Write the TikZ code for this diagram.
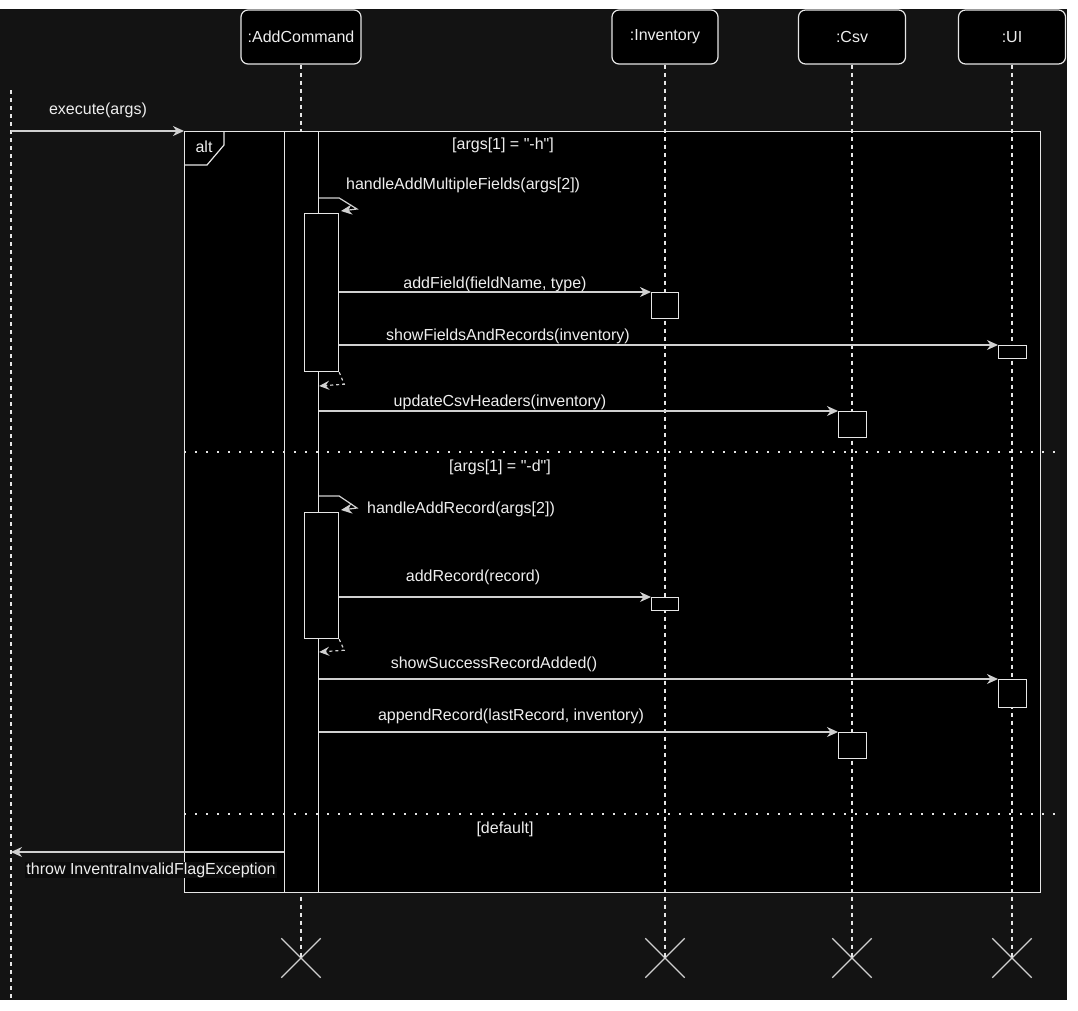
\documentclass[tikz,border=0pt]{standalone}
\usepackage{fontspec}
\setmainfont{Liberation Sans}[Ligatures=TeXOff]
\usetikzlibrary{arrows.meta,shapes.misc}
\definecolor{bgc}{HTML}{131313}
\definecolor{ln}{HTML}{E6E6E6}
\definecolor{ml}{HTML}{D0D0D0}
\definecolor{tx}{HTML}{EEEEEE}
\definecolor{lblbg}{HTML}{0B0B0B}
\begin{document}
\begin{tikzpicture}[x=1pt,y=-1pt,
  font=\fontsize{16}{18}\selectfont,
  head/.style={draw=ln, fill=black, rounded corners=7pt, line width=1.2pt,
    minimum width=120pt, minimum height=54pt, text=tx, inner sep=0pt},
  life/.style={draw=ln, line width=1.2pt, dash pattern=on 4pt off 4pt},
  actbox/.style={draw=ln, fill=black, line width=1.2pt, inner sep=0pt, anchor=north west},
  msg/.style={draw=ml, line width=1.2pt, -{Stealth[length=11pt,width=10pt,inset=3.5pt]}},
  ret/.style={draw=ml, line width=1.2pt, dash pattern=on 3pt off 3pt,
    -{Stealth[length=10pt,width=9pt,inset=3.5pt]}},
  lbl/.style={text=tx, inner sep=0pt},
  sep/.style={draw=ln, line width=2pt, dash pattern=on 2pt off 9pt},
  endx/.style={draw=ml, cross out, line width=1.3pt, minimum size=38pt, inner sep=0pt}
]
\useasboundingbox (0,0) rectangle (1078,1010);
\fill[white] (0,0) rectangle (1078,1010);
\fill[bgc] (0,9) rectangle (1067,1000);

% heads
\node[head] (hAdd) at (301,37) {:AddCommand};
\node[head, minimum width=106pt] (hInv) at (665,37) {:Inventory};
\node[head, minimum width=107pt] (hCsv) at (852,37) {:Csv};
\node[head, minimum width=107pt] (hUI) at (1012,37) {:UI};

% alt frame
\node[draw=ln, fill=black, line width=1.2pt, inner sep=0pt, anchor=north west,
  minimum width=856pt, minimum height=761pt] (alt) at (184,131) {};
\draw[draw=ln, line width=1.2pt] (alt.north west) ++(40,0) -- ++(0,14) -- ++(-17,20) -- ++(-23,0);
\node[lbl] (altlbl) at (204,147) {alt};

% caller lifeline
\coordinate (cTop) at (11,90);
\coordinate (cBot) at (11,1000);
\draw[life] (cTop) -- (cBot);

% end marks
\node[endx] (xAdd) at (301,958) {};
\node[endx] (xInv) at (665,958) {};
\node[endx] (xCsv) at (852,958) {};
\node[endx] (xUI) at (1012,958) {};

% lifelines
\draw[life] (hAdd.south) -- (xAdd.center);
\draw[life] (hInv.south) -- (xInv.center);
\draw[life] (hCsv.south) -- (xCsv.center);
\draw[life] (hUI.south) -- (xUI.center);

% main activation
\node[actbox, minimum width=34pt, minimum height=761pt] (mAct) at (284,131) {};
% nested activations
\node[actbox, minimum width=34pt, minimum height=158pt] (a1) at (304,213) {};
\node[actbox, minimum width=34pt, minimum height=126pt] (a2) at (304,512) {};

% separators
\draw[sep] (alt.west |- 0,452) -- (1062,452);
\draw[sep] (alt.west |- 0,814) -- (1062,814);

% target activations
\node[actbox, minimum width=27pt, minimum height=26pt] (inv1) at (651,292) {};
\node[actbox, minimum width=28pt, minimum height=13pt] (ui1) at (998,345) {};
\node[actbox, minimum width=28pt, minimum height=26pt] (csv1) at (838,411) {};
\node[actbox, minimum width=27pt, minimum height=13pt] (inv2) at (651,597) {};
\node[actbox, minimum width=28pt, minimum height=28pt] (ui2) at (998,679) {};
\node[actbox, minimum width=28pt, minimum height=26pt] (csv2) at (838,732) {};

% execute
\draw[msg] (cTop |- alt.north west) -- (alt.north west);
\node[lbl] (lExec) at (98,110) {execute(args)};

% guard 1
\node[lbl] (g1) at (503,145) {[args[1] = "-h"]};

% self call 1
\draw[msg] (mAct.east |- 0,198) -- (a1.east |- 0,198) -- (357,209) -- (341,211);
\node[lbl, anchor=west] (lSelf1) at (346,185) {handleAddMultipleFields(args[2])};

\draw[msg] (a1.east |- inv1.north west) -- (inv1.north west);
\node[lbl] (lAddField) at (495,284) {addField(fieldName, type)};

\draw[msg] (a1.east |- ui1.north west) -- (ui1.north west);
\node[lbl] (lShowF) at (508,336) {showFieldsAndRecords(inventory)};

\draw[ret] (a1.south east) -- ++(5,12) -- (mAct.east |- 0,386);

\draw[msg] (mAct.east |- csv1.north west) -- (csv1.north west);
\node[lbl] (lUpd) at (500,402) {updateCsvHeaders(inventory)};

% guard 2
\node[lbl] (g2) at (500,467) {[args[1] = "-d"]};

% self call 2
\draw[msg] (mAct.east |- 0,496) -- (a2.east |- 0,496) -- (357,508) -- (341,510);
\node[lbl, anchor=west] (lSelf2) at (367,509) {handleAddRecord(args[2])};

\draw[msg] (a2.east |- inv2.north west) -- (inv2.north west);
\node[lbl] (lAddRec) at (473,577) {addRecord(record)};

\draw[ret] (a2.south east) -- ++(5,11) -- (mAct.east |- 0,652);

\draw[msg] (mAct.east |- ui2.north west) -- (ui2.north west);
\node[lbl] (lShowS) at (494,664) {showSuccessRecordAdded()};

\draw[msg] (mAct.east |- csv2.north west) -- (csv2.north west);
\node[lbl] (lApp) at (511,716) {appendRecord(lastRecord, inventory)};

% default
\node[lbl] (g3) at (505,829) {[default]};

\draw[msg] (mAct.west |- 0,852) -- (cTop |- 0,852);
\node[lbl, fill=lblbg, inner sep=1pt] (lThrow) at (151,870) {throw InventraInvalidFlagException};
\end{tikzpicture}
\end{document}
